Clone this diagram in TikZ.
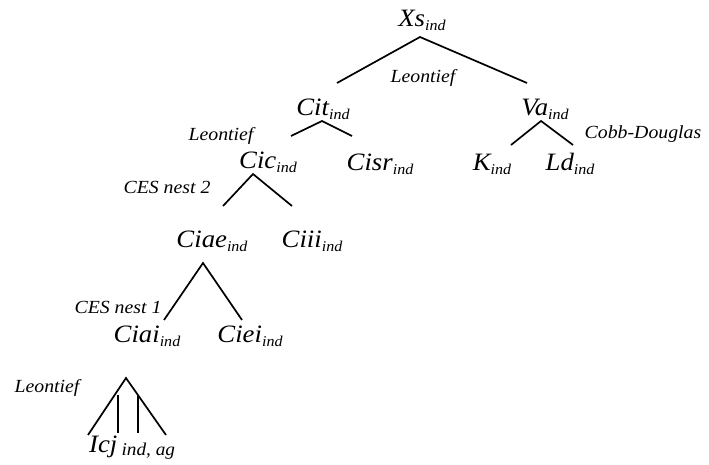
\documentclass[tikz,border=0pt]{standalone}
\usepackage{fontspec}
\setmainfont{Liberation Serif}[FakeStretch=1.07]
\usetikzlibrary{positioning}
\newcommand{\good}[2]{#1\raisebox{-4pt}{\fontsize{15}{15}\selectfont #2}}
\tikzstyle{item} = [font=\fontsize{25}{27}\selectfont\itshape, inner sep=0pt, anchor=base]
\tikzstyle{func} = [font=\fontsize{18.5}{20}\selectfont\itshape, inner sep=0pt, anchor=base]
\tikzstyle{branch} = [line width=1.7pt]

\begin{document}
\begin{tikzpicture}[x=1pt, y=-1pt]
		\useasboundingbox (0,0) rectangle (709,464);
		% goods
		\node (xs) [item] at (422,26) {\good{Xs}{ind}};
		\node (cit) [item] at (323,115) {\good{Cit}{ind}};
		\node (va) [item] at (545,115) {\good{Va}{ind}};
		\node (cic) [item] at (268,168) {\good{Cic}{ind}};
		\node (cisr) [item] at (380,170) {\good{Cisr}{ind}};
		\node (k) [item] at (492,170) {\good{K}{ind}};
		\node (ld) [item] at (570,170) {\good{Ld}{ind}};
		\node (ciae) [item] at (212,247) {\good{Ciae}{ind}};
		\node (ciii) [item] at (312,247) {\good{Ciii}{ind}};
		\node (ciai) [item] at (147,342) {\good{Ciai}{ind}};
		\node (ciei) [item] at (250,342) {\good{Ciei}{ind}};
		\node (icj) [item, anchor=base west] at (89,452) {Icj\,\raisebox{-3pt}{\fontsize{18}{18}\selectfont ind, ag}};
		% functions
		\node (f1) [func] at (423,82) {Leontief};
		\node (f2) [func] at (221,140) {Leontief};
		\node (f3) [func] at (643,138) {Cobb-Douglas};
		\node (f4) [func] at (167,193) {CES nest 2};
		\node (f5) [func] at (118,313) {CES nest 1};
		\node (f6) [func] at (47,392) {Leontief};
		
		\coordinate (xs-s) at (420,37);
		\coordinate (cit-n) at (337,83);
		\coordinate (va-n) at (527,83);
		\coordinate (cit-s) at (322,121);
		\coordinate (cic-n) at (291,136);
		\coordinate (cisr-n) at (352,136);
		\coordinate (va-s) at (541,121);
		\coordinate (k-n) at (511,145);
		\coordinate (ld-n) at (573,145);
		\coordinate (cic-s) at (253,174);
		\coordinate (ciae-n) at (223,206);
		\coordinate (ciii-n) at (292,206);
		\coordinate (ciae-s) at (203,263);
		\coordinate (ciai-n) at (164,320);
		\coordinate (ciei-n) at (242,320);
		\coordinate (icj-s) at (126,378);
		\coordinate (icj-a) at (88,435);
		\coordinate (icj-b) at (118,395);
		\coordinate (icj-c) at (138,395);
		\coordinate (icj-d) at (166,435);
		
		\draw [branch] (cit-n) -- (xs-s) -- (va-n);
		\draw [branch] (cic-n) -- (cit-s) -- (cisr-n);
		\draw [branch] (k-n) -- (va-s) -- (ld-n);
		\draw [branch] (ciae-n) -- (cic-s) -- (ciii-n);
		\draw [branch] (ciai-n) -- (ciae-s) -- (ciei-n);
		\draw [branch] (icj-a) -- (icj-s) -- (icj-d);
		\draw [branch] (icj-b) -- ++(0,38);
		\draw [branch] (icj-c) -- ++(0,38);
	\end{tikzpicture}
\end{document}
